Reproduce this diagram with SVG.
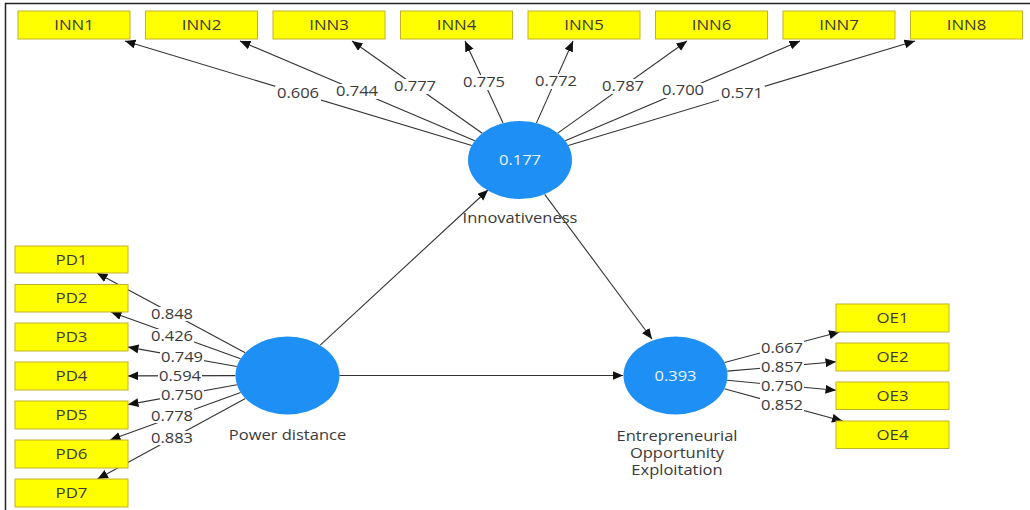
<svg xmlns="http://www.w3.org/2000/svg" width="1030" height="510" viewBox="0 0 1030 510">
<defs>
<marker id="ah" markerUnits="userSpaceOnUse" markerWidth="11" markerHeight="10" refX="10.5" refY="4.5" orient="auto"><path d="M0,0 L10.5,4.5 L0,9 z" fill="#111"/></marker>
<style>
.ln{stroke:#333;stroke-width:1.1;fill:none;marker-end:url(#ah)}
.bx{fill:#ffff00;stroke:#c2b22a;stroke-width:1}
.lv{fill:#1e8ff5}
.t{font-family:"Open Sans","Noto Sans",sans-serif;font-size:14px;text-anchor:middle;fill:#3a3a3a}
.w{fill:#e8f4ff}
.lb{fill:#fff}
</style>
</defs>
<rect width="1030" height="510" fill="#fff"/>
<path d="M5.5,510 V3.5 H1030" fill="none" stroke="#222" stroke-width="1.5"/>
<g id="connectors">
<line class="ln" x1="471.8" y1="145.5" x2="125" y2="41"/>
<line class="ln" x1="474.8" y1="140.8" x2="240" y2="41"/>
<line class="ln" x1="482.2" y1="133.2" x2="352" y2="41"/>
<line class="ln" x1="503" y1="123.1" x2="465" y2="41"/>
<line class="ln" x1="536.4" y1="123.1" x2="573" y2="41"/>
<line class="ln" x1="557.7" y1="133.1" x2="687" y2="41"/>
<line class="ln" x1="565.2" y1="140.8" x2="800" y2="41"/>
<line class="ln" x1="568.2" y1="145.5" x2="915" y2="41"/>
<line class="ln" x1="245.2" y1="352.8" x2="97" y2="273"/>
<line class="ln" x1="240.6" y1="358.7" x2="111" y2="312"/>
<line class="ln" x1="236.9" y1="366.5" x2="128" y2="347.1"/>
<line class="ln" x1="235.5" y1="375.6" x2="128" y2="375.9"/>
<line class="ln" x1="236.9" y1="384.7" x2="128" y2="404.6"/>
<line class="ln" x1="240.6" y1="392.5" x2="110" y2="440"/>
<line class="ln" x1="245.4" y1="398.4" x2="97.5" y2="479"/>
<line class="ln" x1="724.5" y1="362.5" x2="839.5" y2="332"/>
<line class="ln" x1="727.2" y1="371.1" x2="836" y2="361.8"/>
<line class="ln" x1="727.1" y1="380.3" x2="836" y2="390.3"/>
<line class="ln" x1="724.3" y1="388.8" x2="842.5" y2="421"/>
<line class="ln" x1="320.2" y1="345.2" x2="488" y2="190"/>
<line class="ln" x1="544.7" y1="194.3" x2="652" y2="339"/>
<line class="ln" x1="339.5" y1="375.5" x2="623" y2="375.5"/>
<g id="loadings">
<rect class="lb" x="275" y="86" width="46" height="15"/><text class="t" transform="translate(298,98) scale(1.18,1)">0.606</text>
<rect class="lb" x="334" y="84" width="46" height="15"/><text class="t" transform="translate(357,96) scale(1.18,1)">0.744</text>
<rect class="lb" x="392" y="79" width="46" height="15"/><text class="t" transform="translate(415,91) scale(1.18,1)">0.777</text>
<rect class="lb" x="461" y="75" width="46" height="15"/><text class="t" transform="translate(484,87) scale(1.18,1)">0.775</text>
<rect class="lb" x="533" y="74" width="46" height="15"/><text class="t" transform="translate(556,86) scale(1.18,1)">0.772</text>
<rect class="lb" x="600" y="79" width="46" height="15"/><text class="t" transform="translate(623,91) scale(1.18,1)">0.787</text>
<rect class="lb" x="660" y="83" width="46" height="15"/><text class="t" transform="translate(683,95) scale(1.18,1)">0.700</text>
<rect class="lb" x="719" y="86" width="46" height="15"/><text class="t" transform="translate(742,98) scale(1.18,1)">0.571</text>
<rect class="lb" x="150" y="307" width="44" height="14"/><text class="t" transform="translate(172,319) scale(1.18,1)">0.848</text>
<rect class="lb" x="150" y="329" width="44" height="14"/><text class="t" transform="translate(172,341) scale(1.18,1)">0.426</text>
<rect class="lb" x="160" y="350" width="44" height="14"/><text class="t" transform="translate(182,362) scale(1.18,1)">0.749</text>
<rect class="lb" x="158" y="368.5" width="44" height="14"/><text class="t" transform="translate(180,380.5) scale(1.18,1)">0.594</text>
<rect class="lb" x="160" y="388" width="44" height="14"/><text class="t" transform="translate(182,400) scale(1.18,1)">0.750</text>
<rect class="lb" x="150" y="409" width="44" height="14"/><text class="t" transform="translate(172,421) scale(1.18,1)">0.778</text>
<rect class="lb" x="150" y="431" width="44" height="14"/><text class="t" transform="translate(172,443) scale(1.18,1)">0.883</text>
<rect class="lb" x="760" y="340.5" width="44" height="14"/><text class="t" transform="translate(782,352.5) scale(1.18,1)">0.667</text>
<rect class="lb" x="760" y="359.5" width="44" height="14"/><text class="t" transform="translate(782,371.5) scale(1.18,1)">0.857</text>
<rect class="lb" x="760" y="378.5" width="44" height="14"/><text class="t" transform="translate(782,390.5) scale(1.18,1)">0.750</text>
<rect class="lb" x="760" y="397.5" width="44" height="14"/><text class="t" transform="translate(782,409.5) scale(1.18,1)">0.852</text>
</g>
</g>
<g id="INN1"><rect class="bx" x="18" y="11" width="112" height="28"/><text class="t" transform="translate(74,30) scale(1.2,1)">INN1</text></g>
<g id="INN2"><rect class="bx" x="145.5" y="11" width="112" height="28"/><text class="t" transform="translate(201.5,30) scale(1.2,1)">INN2</text></g>
<g id="INN3"><rect class="bx" x="273" y="11" width="112" height="28"/><text class="t" transform="translate(329,30) scale(1.2,1)">INN3</text></g>
<g id="INN4"><rect class="bx" x="400.5" y="11" width="112" height="28"/><text class="t" transform="translate(456.5,30) scale(1.2,1)">INN4</text></g>
<g id="INN5"><rect class="bx" x="528" y="11" width="112" height="28"/><text class="t" transform="translate(584,30) scale(1.2,1)">INN5</text></g>
<g id="INN6"><rect class="bx" x="655.5" y="11" width="112" height="28"/><text class="t" transform="translate(711.5,30) scale(1.2,1)">INN6</text></g>
<g id="INN7"><rect class="bx" x="783" y="11" width="112" height="28"/><text class="t" transform="translate(839,30) scale(1.2,1)">INN7</text></g>
<g id="INN8"><rect class="bx" x="910.5" y="11" width="112" height="28"/><text class="t" transform="translate(966.5,30) scale(1.2,1)">INN8</text></g>
<g id="PD1"><rect class="bx" x="15" y="246" width="113" height="27"/><text class="t" transform="translate(71.5,264.5) scale(1.2,1)">PD1</text></g>
<g id="PD2"><rect class="bx" x="15" y="284.5" width="113" height="27.5"/><text class="t" transform="translate(71.5,303) scale(1.2,1)">PD2</text></g>
<g id="PD3"><rect class="bx" x="15" y="323" width="113" height="28"/><text class="t" transform="translate(71.5,342) scale(1.2,1)">PD3</text></g>
<g id="PD4"><rect class="bx" x="15" y="362" width="113" height="28"/><text class="t" transform="translate(71.5,381) scale(1.2,1)">PD4</text></g>
<g id="PD5"><rect class="bx" x="15" y="401" width="113" height="28"/><text class="t" transform="translate(71.5,420) scale(1.2,1)">PD5</text></g>
<g id="PD6"><rect class="bx" x="15" y="440" width="113" height="28"/><text class="t" transform="translate(71.5,459) scale(1.2,1)">PD6</text></g>
<g id="PD7"><rect class="bx" x="15" y="479" width="113" height="28"/><text class="t" transform="translate(71.5,498) scale(1.2,1)">PD7</text></g>
<g id="OE1"><rect class="bx" x="836" y="304" width="113" height="28"/><text class="t" transform="translate(892.5,323) scale(1.2,1)">OE1</text></g>
<g id="OE2"><rect class="bx" x="836" y="343" width="113" height="28"/><text class="t" transform="translate(892.5,362) scale(1.2,1)">OE2</text></g>
<g id="OE3"><rect class="bx" x="836" y="382" width="113" height="27.5"/><text class="t" transform="translate(892.5,400.5) scale(1.2,1)">OE3</text></g>
<g id="OE4"><rect class="bx" x="836" y="421" width="113" height="27.5"/><text class="t" transform="translate(892.5,439.5) scale(1.2,1)">OE4</text></g>
<g id="Innovativeness"><ellipse class="lv" cx="520" cy="160" rx="52" ry="39"/><text class="t w" transform="translate(520,165) scale(1.18,1)">0.177</text><text class="t" transform="translate(520,223) scale(1.18,1)">Innovativeness</text></g>
<g id="PowerDistance"><ellipse class="lv" cx="287.5" cy="375.5" rx="52" ry="39"/><text class="t" transform="translate(287.5,440) scale(1.18,1)">Power distance</text></g>
<g id="EOE"><ellipse class="lv" cx="675.5" cy="375.5" rx="52" ry="39"/><text class="t w" transform="translate(675.5,380.5) scale(1.18,1)">0.393</text><text class="t" transform="translate(677,441) scale(1.18,1)">Entrepreneurial</text><text class="t" transform="translate(677,458) scale(1.18,1)">Opportunity</text><text class="t" transform="translate(677,475) scale(1.18,1)">Exploitation</text></g>
</svg>
